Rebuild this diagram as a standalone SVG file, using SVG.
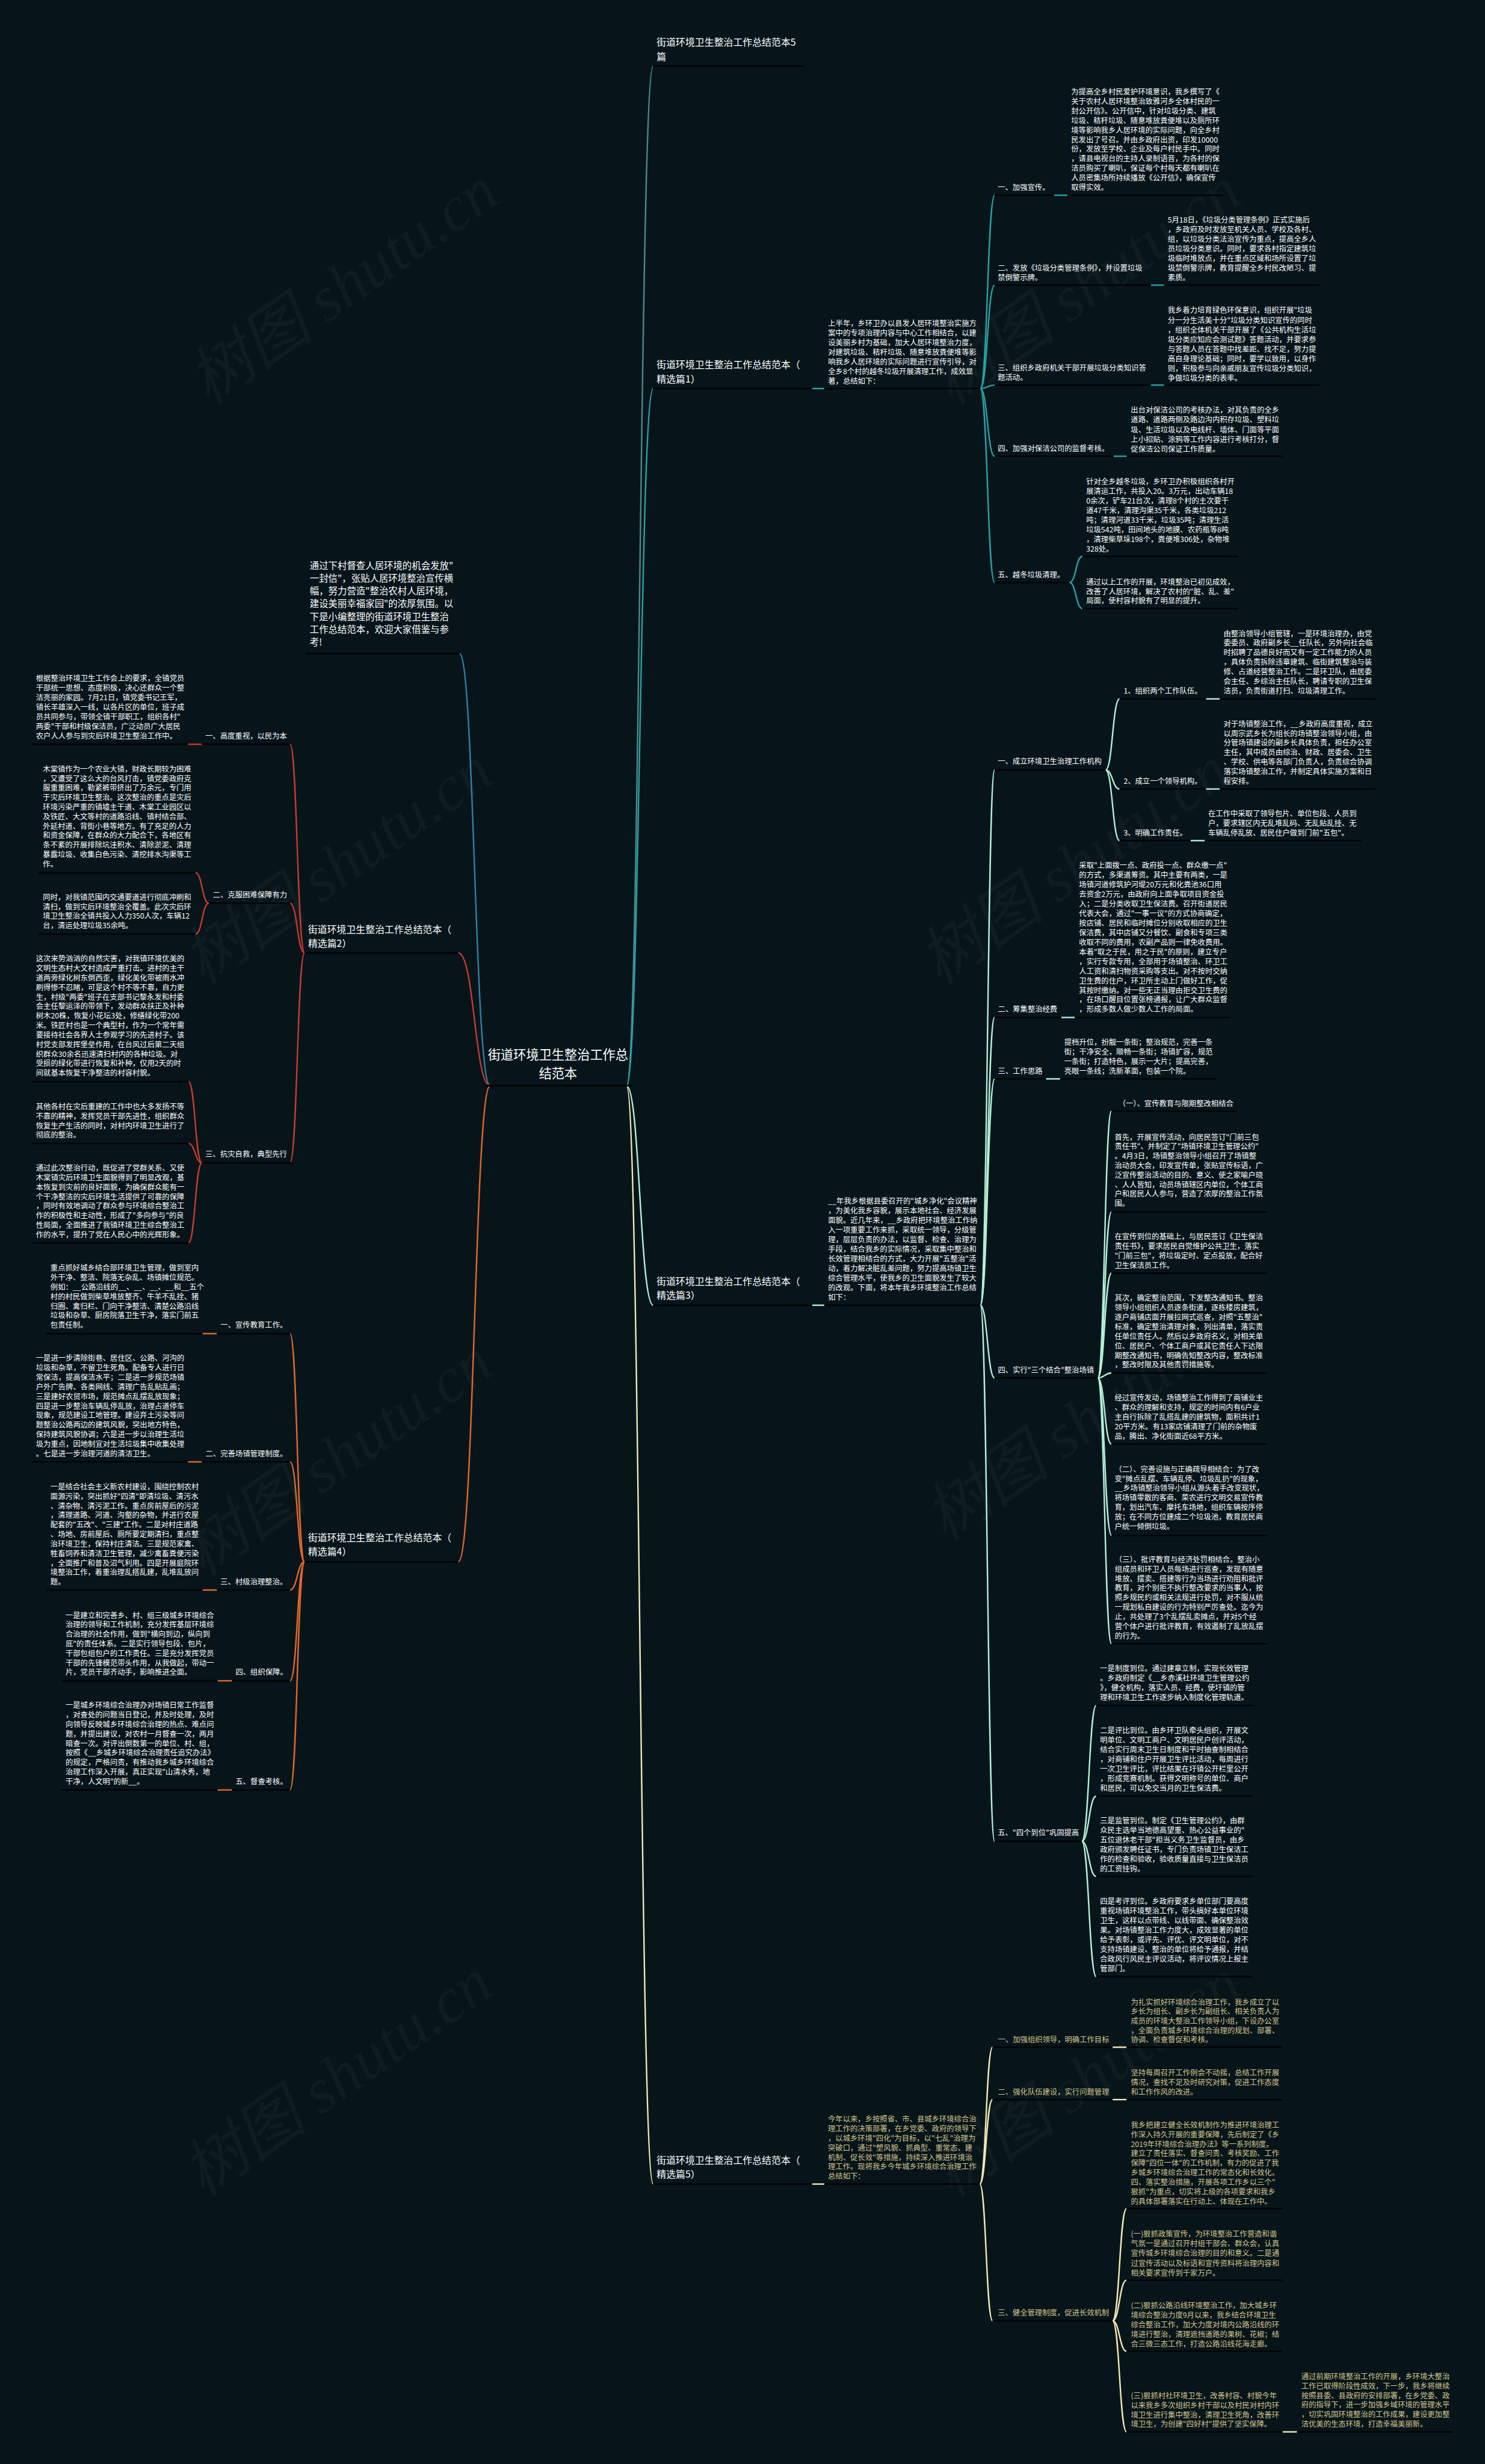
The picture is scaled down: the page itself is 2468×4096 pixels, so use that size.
<svg xmlns="http://www.w3.org/2000/svg" width="2468" height="4096" viewBox="0 0 2468 4096">
<style>
text{font-family:"Noto Sans CJK SC","Noto Sans",sans-serif;}
.t{font-size:12.8px;fill:#ffffff;}
.g{font-size:12.8px;fill:#d6c58b;}
.b{font-size:16.5px;fill:#ffffff;}
.i{font-size:16px;fill:#ffffff;}
.c{font-size:22px;fill:#ffffff;}
.w{font-family:"Liberation Serif","Noto Sans CJK SC",serif;font-style:italic;font-size:110px;fill:#ffffff;fill-opacity:0.035;}
.ul{stroke:#010406;stroke-width:3;fill:none;}
.cn{fill:none;stroke-width:2.5;}
.k5{stroke:#4a8a8c;}
.k1{stroke:#26a3a5;}
.ki{stroke:#2b82a8;}
.k2{stroke:#c8392e;}
.k4{stroke:#e4672b;}
.k3{stroke:#b2f0d7;}
.k6{stroke:#f3e7b3;}
</style>
<rect x="0" y="0" width="2468" height="4096" fill="#07151b"/>
<g transform="scale(0.9640625)">
<g id="watermarks">
<text class="w" transform="translate(360,700) rotate(-35)">树图 shutu.cn</text>
<text class="w" transform="translate(350,1700) rotate(-35)">树图 shutu.cn</text>
<text class="w" transform="translate(350,2720) rotate(-35)">树图 shutu.cn</text>
<text class="w" transform="translate(350,3790) rotate(-35)">树图 shutu.cn</text>
<text class="w" transform="translate(1640,700) rotate(-35)">树图 shutu.cn</text>
<text class="w" transform="translate(1620,1700) rotate(-35)">树图 shutu.cn</text>
<text class="w" transform="translate(1630,2660) rotate(-35)">树图 shutu.cn</text>
<text class="w" transform="translate(1640,3790) rotate(-35)">树图 shutu.cn</text>
</g>

<g id="connectors">
<path class="cn k5" d="M1080 1872C1103 1872 1103 114 1126 114"/>
<path class="cn k1" d="M1080 1872C1103 1872 1103 670 1126 670"/>
<path class="cn k3" d="M1080 1872C1103 1872 1103 2250.6 1126 2250.6"/>
<path class="cn k6" d="M1080 1872C1103 1872 1103 3766 1126 3766"/>
<path class="cn ki" d="M845 1872C818 1872 818 1127 792 1127"/>
<path class="cn k2" d="M845 1872C818 1872 818 1643 790 1643"/>
<path class="cn k4" d="M845 1872C818 1872 818 2693 790 2693"/>
<!-- 篇1 -->
<path class="cn k1" d="M1400 670H1421"/>
<path class="cn k1" d="M1690 670C1702.3 670 1702.3 336.7 1714.6 336.7"/>
<path class="cn k1" d="M1690 670C1702.3 670 1702.3 491.7 1714.6 491.7"/>
<path class="cn k1" d="M1690 670C1702.3 670 1702.3 664 1714.6 664"/>
<path class="cn k1" d="M1690 670C1702.3 670 1702.3 786.7 1714.6 786.7"/>
<path class="cn k1" d="M1690 670C1702.3 670 1702.3 1004.3 1714.6 1004.3"/>
<path class="cn k1" d="M1817 336.7H1840"/>
<path class="cn k1" d="M1983.8 491.7H2006.8"/>
<path class="cn k1" d="M1983.8 664H2006.8"/>
<path class="cn k1" d="M1919.5 786.7H1942.5"/>
<path class="cn k1" d="M1843.7 1004.3C1854.9 1004.3 1854.9 959.3 1866 959.3"/>
<path class="cn k1" d="M1843.7 1004.3C1854.9 1004.3 1854.9 1049.3 1866 1049.3"/>
<!-- 篇3 -->
<path class="cn k3" d="M1400 2250.6H1421"/>
<path class="cn k3" d="M1690 2250.6C1702.3 2250.6 1702.3 1327.7 1714.6 1327.7"/>
<path class="cn k3" d="M1690 2250.6C1702.3 2250.6 1702.3 1754.4 1714.6 1754.4"/>
<path class="cn k3" d="M1690 2250.6C1702.3 2250.6 1702.3 1860.3 1714.6 1860.3"/>
<path class="cn k3" d="M1690 2250.6C1702.3 2250.6 1702.3 2376 1714.6 2376"/>
<path class="cn k3" d="M1690 2250.6C1702.3 2250.6 1702.3 3175 1714.6 3175"/>
<path class="cn k3" d="M1906 1327.7C1918 1327.7 1918 1205.1 1930 1205.1"/>
<path class="cn k3" d="M1906 1327.7C1918 1327.7 1918 1360.5 1930 1360.5"/>
<path class="cn k3" d="M1906 1327.7C1918 1327.7 1918 1449.5 1930 1449.5"/>
<path class="cn k3" d="M2079 1205.1H2102.6"/>
<path class="cn k3" d="M2079 1360.5H2102.6"/>
<path class="cn k3" d="M2052.6 1449.5H2077"/>
<path class="cn k3" d="M1829.6 1754.4H1853"/>
<path class="cn k3" d="M1803 1860.3H1827.6"/>
<path class="cn k3" d="M1892.5 2376C1904.2 2376 1904.2 1916 1916 1916"/>
<path class="cn k3" d="M1892.5 2376C1904.2 2376 1904.2 2090 1916 2090"/>
<path class="cn k3" d="M1892.5 2376C1904.2 2376 1904.2 2195.4 1916 2195.4"/>
<path class="cn k3" d="M1892.5 2376C1904.2 2376 1904.2 2367.6 1916 2367.6"/>
<path class="cn k3" d="M1892.5 2376C1904.2 2376 1904.2 2490 1916 2490"/>
<path class="cn k3" d="M1892.5 2376C1904.2 2376 1904.2 2647.5 1916 2647.5"/>
<path class="cn k3" d="M1892.5 2376C1904.2 2376 1904.2 2834 1916 2834"/>
<path class="cn k3" d="M1865 3175C1877.3 3175 1877.3 2940.8 1889.7 2940.8"/>
<path class="cn k3" d="M1865 3175C1877.3 3175 1877.3 3097 1889.7 3097"/>
<path class="cn k3" d="M1865 3175C1877.3 3175 1877.3 3235.5 1889.7 3235.5"/>
<path class="cn k3" d="M1865 3175C1877.3 3175 1877.3 3408.3 1889.7 3408.3"/>
<!-- 篇5 -->
<path class="cn k6" d="M1400 3766H1421"/>
<path class="cn k6" d="M1689 3766C1700 3766 1700 3530 1711 3530"/>
<path class="cn k6" d="M1689 3766C1700 3766 1700 3620.3 1711 3620.3"/>
<path class="cn k6" d="M1689 3766C1700 3766 1700 4001.7 1711 4001.7"/>
<path class="cn k6" d="M1918 3530H1942"/>
<path class="cn k6" d="M1918 3620.3H1942"/>
<path class="cn k6" d="M1918 4001.7C1930 4001.7 1930 3808.3 1942 3808.3"/>
<path class="cn k6" d="M1918 4001.7C1930 4001.7 1930 3931.7 1942 3931.7"/>
<path class="cn k6" d="M1918 4001.7C1930 4001.7 1930 4054.3 1942 4054.3"/>
<path class="cn k6" d="M1918 4001.7C1930 4001.7 1930 4193.3 1942 4193.3"/>
<path class="cn k6" d="M2211 4193.3H2236"/>
<!-- 篇2 -->
<path class="cn k2" d="M525 1643C512.5 1643 512.5 1283.4 500 1283.4"/>
<path class="cn k2" d="M525 1643C512.5 1643 512.5 1557.4 500 1557.4"/>
<path class="cn k2" d="M525 1643C512.5 1643 512.5 2005 500 2005"/>
<path class="cn k2" d="M348 1283.4H324"/>
<path class="cn k2" d="M360 1557.4C348.5 1557.4 348.5 1504.8 337 1504.8"/>
<path class="cn k2" d="M360 1557.4C348.5 1557.4 348.5 1610.8 337 1610.8"/>
<path class="cn k2" d="M348 2005C336.5 2005 336.5 1865.2 325 1865.2"/>
<path class="cn k2" d="M348 2005C336.5 2005 336.5 1971.7 325 1971.7"/>
<path class="cn k2" d="M348 2005C336.5 2005 336.5 2143 325 2143"/>
<!-- 篇4 -->
<path class="cn k4" d="M525 2693C512.5 2693 512.5 2299.6 500 2299.6"/>
<path class="cn k4" d="M525 2693C512.5 2693 512.5 2520.7 500 2520.7"/>
<path class="cn k4" d="M525 2693C512.5 2693 512.5 2741.7 500 2741.7"/>
<path class="cn k4" d="M525 2693C512.5 2693 512.5 2898.2 500 2898.2"/>
<path class="cn k4" d="M525 2693C512.5 2693 512.5 3086.4 500 3086.4"/>
<path class="cn k4" d="M374 2299.6H349"/>
<path class="cn k4" d="M348 2520.7H324"/>
<path class="cn k4" d="M374 2741.7H349"/>
<path class="cn k4" d="M400 2898.2H375"/>
<path class="cn k4" d="M400 3086.4H375"/>
</g>

<g id="center">
<text class="c" text-anchor="middle" x="962" y="1826.4">街道环境卫生整治工作总</text>
<text class="c" text-anchor="middle" x="962" y="1858.4">结范本</text>
<path class="ul" d="M836 1872H1090"/>
</g>

<g id="b5top">
<text class="b" x="1132" y="79.3"><tspan x="1132">街道环境卫生整治工作总结范本5</tspan><tspan x="1132" dy="24">篇</tspan></text>
<path class="ul" d="M1126 114H1385"/>
</g>

<g id="intro">
<text class="i" x="534" y="981.1"><tspan x="534">通过下村督查人居环境的机会发放"</tspan><tspan x="534" dy="22">一封信"，张贴人居环境整治宣传横</tspan><tspan x="534" dy="22">幅，努力营造"整治农村人居环境，</tspan><tspan x="534" dy="22">建设美丽幸福家园"的浓厚氛围。以</tspan><tspan x="534" dy="22">下是小编整理的街道环境卫生整治</tspan><tspan x="534" dy="22">工作总结范本，欢迎大家借鉴与参</tspan><tspan x="534" dy="22">考!</tspan></text>
<path class="ul" d="M528 1127H792"/>
</g>

<!-- ===== 篇1 ===== -->
<g id="b1">
<text class="b" x="1132" y="635.3"><tspan x="1132">街道环境卫生整治工作总结范本（</tspan><tspan x="1132" dy="24">精选篇1）</tspan></text>
<path class="ul" d="M1126 670H1400"/>
</g>
<g id="b1-intro">
<text class="t" x="1427.6" y="562.3"><tspan x="1427.6">上半年，乡环卫办以县发人居环境整治实施方</tspan><tspan x="1427.6" dy="16.6">案中的专项治理内容与中心工作相结合，以建</tspan><tspan x="1427.6" dy="16.6">设美丽乡村为基础，加大人居环境整治力度，</tspan><tspan x="1427.6" dy="16.6">对建筑垃圾、秸秆垃圾、随意堆放粪便堆等影</tspan><tspan x="1427.6" dy="16.6">响我乡人居环境的实际问题进行宣传引导，对</tspan><tspan x="1427.6" dy="16.6">全乡8个村的越冬垃圾开展清理工作，成效显</tspan><tspan x="1427.6" dy="16.6">著，总结如下：</tspan></text>
<path class="ul" d="M1421 670H1690"/>
</g>
<g id="b1-1">
<text class="t" x="1720" y="327.9">一、加强宣传。</text>
<path class="ul" d="M1714.6 336.7H1817"/>
</g>
<g id="b1-1a">
<text class="t" x="1846.6" y="162.9"><tspan x="1846.6">为提高全乡村民爱护环境意识，我乡撰写了《</tspan><tspan x="1846.6" dy="16.5">关于农村人居环境整治致雅河乡全体村民的一</tspan><tspan x="1846.6" dy="16.5">封公开信》。公开信中，针对垃圾分类、建筑</tspan><tspan x="1846.6" dy="16.5">垃圾、秸秆垃圾、随意堆放粪便堆以及厕所环</tspan><tspan x="1846.6" dy="16.5">境等影响我乡人居环境的实际问题，向全乡村</tspan><tspan x="1846.6" dy="16.5">民发出了号召。并由乡政府出资，印发10000</tspan><tspan x="1846.6" dy="16.5">份，发放至学校、企业及每户村民手中。同时</tspan><tspan x="1846.6" dy="16.5">，请县电视台的主持人录制语音，为各村的保</tspan><tspan x="1846.6" dy="16.5">洁员购买了喇叭，保证每个村每天都有喇叭在</tspan><tspan x="1846.6" dy="16.5">人员密集场所持续播放《公开信》，确保宣传</tspan><tspan x="1846.6" dy="16.5">取得实效。</tspan></text>
<path class="ul" d="M1840 336.7H2109"/>
</g>
<g id="b1-2">
<text class="t" x="1720" y="466.9"><tspan x="1720">二、发放《垃圾分类管理条例》，并设置垃圾</tspan><tspan x="1720" dy="16.7">禁倒警示牌。</tspan></text>
<path class="ul" d="M1714.6 491.7H1983.8"/>
</g>
<g id="b1-2a">
<text class="t" x="2013" y="383.9"><tspan x="2013">5月18日，《垃圾分类管理条例》正式实施后</tspan><tspan x="2013" dy="16.6">，乡政府及时发放至机关人员、学校及各村、</tspan><tspan x="2013" dy="16.6">组，以垃圾分类法治宣传为重点，提高全乡人</tspan><tspan x="2013" dy="16.6">员垃圾分类意识。同时，要求各村指定建筑垃</tspan><tspan x="2013" dy="16.6">圾临时堆放点，并在重点区域和场所设置了垃</tspan><tspan x="2013" dy="16.6">圾禁倒警示牌，教育提醒全乡村民改陋习、提</tspan><tspan x="2013" dy="16.6">素质。</tspan></text>
<path class="ul" d="M2006.8 491.7H2275"/>
</g>
<g id="b1-3">
<text class="t" x="1720" y="638.9"><tspan x="1720">三、组织乡政府机关干部开展垃圾分类知识答</tspan><tspan x="1720" dy="16.7">题活动。</tspan></text>
<path class="ul" d="M1714.6 664H1983.8"/>
</g>
<g id="b1-3a">
<text class="t" x="2013" y="539.9"><tspan x="2013">我乡着力培育绿色环保意识，组织开展"垃圾</tspan><tspan x="2013" dy="16.6">分一分生活美十分"垃圾分类知识宣传的同时</tspan><tspan x="2013" dy="16.6">，组织全体机关干部开展了《公共机构生活垃</tspan><tspan x="2013" dy="16.6">圾分类应知应会测试题》答题活动，并要求参</tspan><tspan x="2013" dy="16.6">与答题人员在答题中找差距、找不足，努力提</tspan><tspan x="2013" dy="16.6">高自身理论基础；同时，要学以致用，以身作</tspan><tspan x="2013" dy="16.6">则，积极参与向亲戚朋友宣传垃圾分类知识，</tspan><tspan x="2013" dy="16.6">争做垃圾分类的表率。</tspan></text>
<path class="ul" d="M2006.8 664H2275"/>
</g>
<g id="b1-4">
<text class="t" x="1720" y="777.9">四、加强对保洁公司的监督考核。</text>
<path class="ul" d="M1714.6 786.7H1919.5"/>
</g>
<g id="b1-4a">
<text class="t" x="1949.4" y="711.9"><tspan x="1949.4">出台对保洁公司的考核办法，对其负责的全乡</tspan><tspan x="1949.4" dy="16.7">道路、道路两侧及路边沟内积存垃圾、塑料垃</tspan><tspan x="1949.4" dy="16.7">圾、生活垃圾以及电线杆、墙体、门面等平面</tspan><tspan x="1949.4" dy="16.7">上小招贴、涂鸦等工作内容进行考核打分，督</tspan><tspan x="1949.4" dy="16.7">促保洁公司保证工作质量。</tspan></text>
<path class="ul" d="M1942.5 786.7H2210.6"/>
</g>
<g id="b1-5">
<text class="t" x="1720" y="995.6">五、越冬垃圾清理。</text>
<path class="ul" d="M1714.6 1004.3H1843.7"/>
</g>
<g id="b1-5a">
<text class="t" x="1872.5" y="834.6"><tspan x="1872.5">针对全乡越冬垃圾，乡环卫办积极组织各村开</tspan><tspan x="1872.5" dy="16.6">展清运工作，共投入20。3万元，出动车辆18</tspan><tspan x="1872.5" dy="16.6">0余次，铲车21台次，清理8个村的主次要干</tspan><tspan x="1872.5" dy="16.6">道47千米，清理沟渠35千米，各类垃圾212</tspan><tspan x="1872.5" dy="16.6">吨；清理河道33千米，垃圾35吨；清理生活</tspan><tspan x="1872.5" dy="16.6">垃圾542吨，田间地头的地膜、农药瓶等8吨</tspan><tspan x="1872.5" dy="16.6">，清理柴草垛198个，粪便堆306处，杂物堆</tspan><tspan x="1872.5" dy="16.6">328处。</tspan></text>
<path class="ul" d="M1866 959.3H2135"/>
</g>
<g id="b1-5b">
<text class="t" x="1872.5" y="1007.9"><tspan x="1872.5">通过以上工作的开展，环境整治已初见成效，</tspan><tspan x="1872.5" dy="16.5">改善了人居环境，解决了农村的"脏、乱、差"</tspan><tspan x="1872.5" dy="16.5">局面，使村容村貌有了明显的提升。</tspan></text>
<path class="ul" d="M1866 1049.3H2135"/>
</g>

<!-- ===== 篇2 ===== -->
<g id="b2">
<text class="b" x="531" y="1608.3"><tspan x="531">街道环境卫生整治工作总结范本（</tspan><tspan x="531" dy="24">精选篇2）</tspan></text>
<path class="ul" d="M525 1643H790"/>
</g>
<g id="b2-1">
<text class="t" x="354" y="1273.6">一、高度重视，以民为本</text>
<path class="ul" d="M348 1283.4H500"/>
</g>
<g id="b2-1a">
<text class="t" x="62" y="1174.4"><tspan x="62">根据整治环境卫生工作会上的要求，全镇党员</tspan><tspan x="62" dy="16.55">干部统一思想、态度积极，决心还群众一个整</tspan><tspan x="62" dy="16.55">洁亮丽的家园。7月21日，镇党委书记王军，</tspan><tspan x="62" dy="16.55">镇长羊雄深入一线，以各片区的单位，班子成</tspan><tspan x="62" dy="16.55">员共同参与，带领全镇干部职工，组织各村"</tspan><tspan x="62" dy="16.55">两委"干部和村级保洁员，广泛动员广大居民</tspan><tspan x="62" dy="16.55">农户人人参与到灾后环境卫生整治工作中。</tspan></text>
<path class="ul" d="M54 1283.4H324"/>
</g>
<g id="b2-2">
<text class="t" x="367" y="1548.1">二、克服困难保障有力</text>
<path class="ul" d="M360 1557.4H500"/>
</g>
<g id="b2-2a">
<text class="t" x="74" y="1330.6"><tspan x="74">木棠镇作为一个农业大镇，财政长期较为困难</tspan><tspan x="74" dy="16.4">，又遭受了这么大的台风打击，镇党委政府克</tspan><tspan x="74" dy="16.4">服重重困难，勒紧裤带挤出了万余元，专门用</tspan><tspan x="74" dy="16.4">于灾后环境卫生整治。这次整治的重点是灾后</tspan><tspan x="74" dy="16.4">环境污染严重的镇墟主干道、木棠工业园区以</tspan><tspan x="74" dy="16.4">及铁匠、大文等村的道路沿线、镇村结合部、</tspan><tspan x="74" dy="16.4">外延村道、背街小巷等地方。有了充足的人力</tspan><tspan x="74" dy="16.4">和资金保障，在群众的大力配合下，各地区有</tspan><tspan x="74" dy="16.4">条不紊的开展排除坑洼积水、清除淤泥、清理</tspan><tspan x="74" dy="16.4">暴露垃圾、收集白色污染、清挖排水沟渠等工</tspan><tspan x="74" dy="16.4">作。</tspan></text>
<path class="ul" d="M66 1504.8H337"/>
</g>
<g id="b2-2b">
<text class="t" x="74" y="1551.5"><tspan x="74">同时，对我镇范围内交通要道进行彻底冲刷和</tspan><tspan x="74" dy="16.4">清扫，做到灾后环境整治全覆盖。此次灾后环</tspan><tspan x="74" dy="16.4">境卫生整治全镇共投入人力350人次，车辆12</tspan><tspan x="74" dy="16.4">台，清运处理垃圾35余吨。</tspan></text>
<path class="ul" d="M66 1610.8H337"/>
</g>
<g id="b2-3">
<text class="t" x="354" y="1994.6">三、抗灾自救，典型先行</text>
<path class="ul" d="M348 2005H502"/>
</g>
<g id="b2-3a">
<text class="t" x="62" y="1658"><tspan x="62">这次来势汹汹的自然灾害，对我镇环境优美的</tspan><tspan x="62" dy="16.4">文明生态村大文村造成严重打击。进村的主干</tspan><tspan x="62" dy="16.4">道两旁绿化树东倒西歪，绿化美化带被雨水冲</tspan><tspan x="62" dy="16.4">刷得惨不忍睹，可是这个村不等不靠，自力更</tspan><tspan x="62" dy="16.4">生，村级"两委"班子在支部书记黎永发和村委</tspan><tspan x="62" dy="16.4">会主任黎运泽的带领下，发动群众扶正及补种</tspan><tspan x="62" dy="16.4">树木20株，恢复小花坛3处，修缮绿化带200</tspan><tspan x="62" dy="16.4">米。铁匠村也是一个典型村，作为一个常年需</tspan><tspan x="62" dy="16.4">要接待社会各界人士参观学习的先进村子。该</tspan><tspan x="62" dy="16.4">村党支部发挥堡垒作用，在台风过后第二天组</tspan><tspan x="62" dy="16.4">织群众30余名迅速清扫村内的各种垃圾。对</tspan><tspan x="62" dy="16.4">受损的绿化带进行恢复和补种，仅用2天的时</tspan><tspan x="62" dy="16.4">间就基本恢复干净整洁的村容村貌。</tspan></text>
<path class="ul" d="M54 1865.2H325"/>
</g>
<g id="b2-3b">
<text class="t" x="62" y="1912.8"><tspan x="62">其他各村在灾后重建的工作中也大多发扬不等</tspan><tspan x="62" dy="16.4">不靠的精神，发挥党员干部先进性，组织群众</tspan><tspan x="62" dy="16.4">恢复生产生活的同时，对村内环境卫生进行了</tspan><tspan x="62" dy="16.4">彻底的整治。</tspan></text>
<path class="ul" d="M54 1971.7H325"/>
</g>
<g id="b2-3c">
<text class="t" x="62" y="2018.8"><tspan x="62">通过此次整治行动，既促进了党群关系、又使</tspan><tspan x="62" dy="16.4">木棠镇灾后环境卫生面貌得到了明显改观，基</tspan><tspan x="62" dy="16.4">本恢复到灾前的良好面貌，为确保群众能有一</tspan><tspan x="62" dy="16.4">个干净整洁的灾后环境生活提供了可靠的保障</tspan><tspan x="62" dy="16.4">，同时有效地调动了群众参与环境综合整治工</tspan><tspan x="62" dy="16.4">作的积极性和主动性，形成了"多向参与"的良</tspan><tspan x="62" dy="16.4">性局面，全面推进了我镇环境卫生综合整治工</tspan><tspan x="62" dy="16.4">作的水平，提升了党在人民心中的光辉形象。</tspan></text>
<path class="ul" d="M54 2143H325"/>
</g>

<!-- ===== 篇4 ===== -->
<g id="b4">
<text class="b" x="531" y="2657.3"><tspan x="531">街道环境卫生整治工作总结范本（</tspan><tspan x="531" dy="24">精选篇4）</tspan></text>
<path class="ul" d="M525 2693H790"/>
</g>
<g id="b4-1">
<text class="t" x="380" y="2289.4">一、宣传教育工作。</text>
<path class="ul" d="M374 2299.6H500"/>
</g>
<g id="b4-1a">
<text class="t" x="87" y="2191"><tspan x="87">重点抓好城乡结合部环境卫生管理，做到室内</tspan><tspan x="87" dy="16.4">外干净、整洁、院落无杂乱、场镇摊位规范。</tspan><tspan x="87" dy="16.4">例如：__公路沿线的__、__、__、__和__五个</tspan><tspan x="87" dy="16.4">村的村民做到柴草堆放整齐、牛羊不乱拴、猪</tspan><tspan x="87" dy="16.4">归圈、禽归栏、门向干净整洁、清楚公路沿线</tspan><tspan x="87" dy="16.4">垃圾和杂草、厨房院落卫生干净，落实门前五</tspan><tspan x="87" dy="16.4">包责任制。</tspan></text>
<path class="ul" d="M80 2299.6H349"/>
</g>
<g id="b4-2">
<text class="t" x="354.5" y="2511.4">二、完善场镇管理制度。</text>
<path class="ul" d="M348 2520.7H500"/>
</g>
<g id="b4-2a">
<text class="t" x="62" y="2346.3"><tspan x="62">一是进一步清除街巷、居住区、公路、河沟的</tspan><tspan x="62" dy="16.5">垃圾和杂草，不留卫生死角。配备专人进行日</tspan><tspan x="62" dy="16.5">常保洁，提高保洁水平；二是进一步规范场镇</tspan><tspan x="62" dy="16.5">户外广告牌、各类网线、清理广告乱贴乱画；</tspan><tspan x="62" dy="16.5">三是建好农贸市场，规范摊点乱摆乱放现象；</tspan><tspan x="62" dy="16.5">四是进一步整治车辆乱停乱放，治理占道停车</tspan><tspan x="62" dy="16.5">现象，规范建设工地管理。建设弃土污染等问</tspan><tspan x="62" dy="16.5">题整治公路两边的建筑风貌，突出地方特色，</tspan><tspan x="62" dy="16.5">保持建筑风貌协调；六是进一步以治理生活垃</tspan><tspan x="62" dy="16.5">圾为重点，因地制宜对生活垃圾集中收集处理</tspan><tspan x="62" dy="16.5">。七是进一步治理河道的清洁卫生。</tspan></text>
<path class="ul" d="M54 2520.7H324"/>
</g>
<g id="b4-3">
<text class="t" x="380" y="2732.4">三、村级治理整治。</text>
<path class="ul" d="M374 2741.7H500"/>
</g>
<g id="b4-3a">
<text class="t" x="87" y="2568.2"><tspan x="87">一是结合社会主义新农村建设，围绕控制农村</tspan><tspan x="87" dy="16.42">面源污染，突出抓好"四清"即清垃圾、清污水</tspan><tspan x="87" dy="16.42">、清杂物、清污泥工作。重点房前屋后的污泥</tspan><tspan x="87" dy="16.42">，清理道路、河道、沟壑的杂物，并进行农屋</tspan><tspan x="87" dy="16.42">配套的"五改"、"三建"工作。二是对村庄道路</tspan><tspan x="87" dy="16.42">、场地、房前屋后、厕所要定期清扫，重点整</tspan><tspan x="87" dy="16.42">治环境卫生，保持村庄清洁。三是规范家禽、</tspan><tspan x="87" dy="16.42">牲畜饲养和清洁卫生管理，减少禽畜粪便污染</tspan><tspan x="87" dy="16.42">，全面推广和普及沼气利用。四是开展庭院环</tspan><tspan x="87" dy="16.42">境整治工作，着重治理乱搭乱建，乱堆乱放问</tspan><tspan x="87" dy="16.42">题。</tspan></text>
<path class="ul" d="M80 2741.7H349"/>
</g>
<g id="b4-4">
<text class="t" x="406" y="2888.1">四、组织保障。</text>
<path class="ul" d="M400 2898.2H500"/>
</g>
<g id="b4-4a">
<text class="t" x="113" y="2790"><tspan x="113">一是建立和完善乡、村、组三级城乡环境综合</tspan><tspan x="113" dy="16.35">治理的领导和工作机制，充分发挥基层环境综</tspan><tspan x="113" dy="16.35">合治理的社会作用，做到"横向到边，纵向到</tspan><tspan x="113" dy="16.35">底"的责任体系。二是实行领导包段、包片，</tspan><tspan x="113" dy="16.35">干部包组包户的工作责任。三是充分发挥党员</tspan><tspan x="113" dy="16.35">干部的先锋模范带头作用，从我做起，带动一</tspan><tspan x="113" dy="16.35">片，党员干部齐动手，影响推进全面。</tspan></text>
<path class="ul" d="M106 2898.2H375"/>
</g>
<g id="b4-5">
<text class="t" x="406" y="3076.6">五、督查考核。</text>
<path class="ul" d="M400 3086.4H500"/>
</g>
<g id="b4-5a">
<text class="t" x="113" y="2944.9"><tspan x="113">一是城乡环境综合治理办对场镇日常工作监督</tspan><tspan x="113" dy="16.46">，对查处的问题当日登记，并及时处理，及时</tspan><tspan x="113" dy="16.46">向领导反映城乡环境综合治理的热点、难点问</tspan><tspan x="113" dy="16.46">题，并提出建议，对农村一月督查一次，两月</tspan><tspan x="113" dy="16.46">暗查一次。对评出倒数第一的单位、村、组，</tspan><tspan x="113" dy="16.46">按照《__乡城乡环境综合治理责任追究办法》</tspan><tspan x="113" dy="16.46">的规定，严格问责，有推动我乡城乡环境综合</tspan><tspan x="113" dy="16.46">治理工作深入开展，真正实现"山清水秀，地</tspan><tspan x="113" dy="16.46">干净，人文明"的新__。</tspan></text>
<path class="ul" d="M106 3086.4H375"/>
</g>

<!-- ===== 篇3 ===== -->
<g id="b3">
<text class="b" x="1132" y="2215.9"><tspan x="1132">街道环境卫生整治工作总结范本（</tspan><tspan x="1132" dy="24">精选篇3）</tspan></text>
<path class="ul" d="M1126 2250.6H1400"/>
</g>
<g id="b3-intro">
<text class="t" x="1427.6" y="2076.1"><tspan x="1427.6">__年我乡根据县委召开的"城乡净化"会议精神</tspan><tspan x="1427.6" dy="16.52">，为美化我乡容貌，展示本地社会、经济发展</tspan><tspan x="1427.6" dy="16.52">面貌。近几年来，__乡政府把环境整治工作纳</tspan><tspan x="1427.6" dy="16.52">入一项重要工作来抓，采取统一领导，分级管</tspan><tspan x="1427.6" dy="16.52">理，层层负责的办法，以监督、检查、治理为</tspan><tspan x="1427.6" dy="16.52">手段，结合我乡的实际情况，采取集中整治和</tspan><tspan x="1427.6" dy="16.52">长效管理相结合的方式，大力开展"五整治"活</tspan><tspan x="1427.6" dy="16.52">动，着力解决脏乱差问题，努力提高场镇卫生</tspan><tspan x="1427.6" dy="16.52">综合管理水平，使我乡的卫生面貌发生了较大</tspan><tspan x="1427.6" dy="16.52">的改观。下面，将本年我乡环境整治工作总结</tspan><tspan x="1427.6" dy="16.52">如下：</tspan></text>
<path class="ul" d="M1421 2250.6H1690"/>
</g>
<g id="b3-1">
<text class="t" x="1720" y="1317.6">一、成立环境卫生治理工作机构</text>
<path class="ul" d="M1714.6 1327.7H1906"/>
</g>
<g id="b3-1-1">
<text class="t" x="1937" y="1195.9">1、组织两个工作队伍。</text>
<path class="ul" d="M1930 1205.1H2079"/>
</g>
<g id="b3-1-1a">
<text class="t" x="2109.2" y="1097"><tspan x="2109.2">由整治领导小组管辖，一是环境治理办，由党</tspan><tspan x="2109.2" dy="16.5">委委员、政府副乡长__任队长，另外向社会临</tspan><tspan x="2109.2" dy="16.5">时招聘了品德良好而又有一定工作能力的人员</tspan><tspan x="2109.2" dy="16.5">，具体负责拆除违章建筑、临街建筑整治与装</tspan><tspan x="2109.2" dy="16.5">修、占道经营整治工作。二是环卫队，由居委</tspan><tspan x="2109.2" dy="16.5">会主任、乡综治主任队长，聘请专职的卫生保</tspan><tspan x="2109.2" dy="16.5">洁员，负责街道打扫、垃圾清理工作。</tspan></text>
<path class="ul" d="M2102.6 1205.1H2371"/>
</g>
<g id="b3-1-2">
<text class="t" x="1937" y="1351.3">2、成立一个领导机构。</text>
<path class="ul" d="M1930 1360.5H2079"/>
</g>
<g id="b3-1-2a">
<text class="t" x="2109.2" y="1252.8"><tspan x="2109.2">对于场镇整治工作，__乡政府高度重视，成立</tspan><tspan x="2109.2" dy="16.42">以周宗武乡长为组长的场镇整治领导小组，由</tspan><tspan x="2109.2" dy="16.42">分管场镇建设的副乡长具体负责，担任办公室</tspan><tspan x="2109.2" dy="16.42">主任，其中成员由综治、财政、居委会、卫生</tspan><tspan x="2109.2" dy="16.42">、学校、供电等各部门负责人，负责综合协调</tspan><tspan x="2109.2" dy="16.42">落实场镇整治工作，并制定具体实施方案和日</tspan><tspan x="2109.2" dy="16.42">程安排。</tspan></text>
<path class="ul" d="M2102.6 1360.5H2371"/>
</g>
<g id="b3-1-3">
<text class="t" x="1937" y="1441">3、明确工作责任。</text>
<path class="ul" d="M1930 1449.5H2052.6"/>
</g>
<g id="b3-1-3a">
<text class="t" x="2082.8" y="1407.8"><tspan x="2082.8">在工作中采取了领导包片、单位包段、人员到</tspan><tspan x="2082.8" dy="16.6">户，要求辖区内无乱堆乱码、无乱贴乱挂、无</tspan><tspan x="2082.8" dy="16.6">车辆乱停乱放、居民住户做到门前"五包"。</tspan></text>
<path class="ul" d="M2077 1449.5H2346.6"/>
</g>
<g id="b3-2">
<text class="t" x="1720.4" y="1745.1">二、筹集整治经费</text>
<path class="ul" d="M1714.6 1754.4H1829.6"/>
</g>
<g id="b3-2a">
<text class="t" x="1860.2" y="1497.2"><tspan x="1860.2">采取"上面拨一点、政府投一点、群众缴一点"</tspan><tspan x="1860.2" dy="16.53">的方式，多渠道筹资。其中主要有两类，一是</tspan><tspan x="1860.2" dy="16.53">场镇河道修筑护河堤20万元和化粪池36口用</tspan><tspan x="1860.2" dy="16.53">去资金2万元，由政府向上面争取项目资金投</tspan><tspan x="1860.2" dy="16.53">入；二是分类收取卫生保洁费。召开街道居民</tspan><tspan x="1860.2" dy="16.53">代表大会，通过"一事一议"的方式协商确定，</tspan><tspan x="1860.2" dy="16.53">按店铺、居民和临时摊位分别收取相应的卫生</tspan><tspan x="1860.2" dy="16.53">保洁费，其中店铺又分餐饮、副食和专项三类</tspan><tspan x="1860.2" dy="16.53">收取不同的费用，农副产品则一律免收费用。</tspan><tspan x="1860.2" dy="16.53">本着"取之于民，用之于民"的原则，建立专户</tspan><tspan x="1860.2" dy="16.53">，实行专款专用，全部用于场镇整治、环卫工</tspan><tspan x="1860.2" dy="16.53">人工资和清扫物资采购等支出。对不按时交纳</tspan><tspan x="1860.2" dy="16.53">卫生费的住户，环卫所主动上门做好工作，促</tspan><tspan x="1860.2" dy="16.53">其按时缴纳。对一些无正当理由拒交卫生费的</tspan><tspan x="1860.2" dy="16.53">，在场口醒目位置张榜通报，让广大群众监督</tspan><tspan x="1860.2" dy="16.53">，形成多数人做少数人工作的局面。</tspan></text>
<path class="ul" d="M1853 1754.4H2122"/>
</g>
<g id="b3-3">
<text class="t" x="1720.4" y="1851.1">三、工作思路</text>
<path class="ul" d="M1714.6 1860.3H1803"/>
</g>
<g id="b3-3a">
<text class="t" x="1834.7" y="1801.6"><tspan x="1834.7">提档升位，扮靓一条街；整治规范，完善一条</tspan><tspan x="1834.7" dy="16.5">街；干净安全，顺畅一条街；场镇扩容，规范</tspan><tspan x="1834.7" dy="16.5">一条街；打造特色，展示一大片；提高完善，</tspan><tspan x="1834.7" dy="16.5">亮眼一条线；洗新革面，包装一个院。</tspan></text>
<path class="ul" d="M1827.6 1860.3H2095"/>
</g>
<g id="b3-4">
<text class="t" x="1720.3" y="2367.2">四、实行"三个结合"整治场镇</text>
<path class="ul" d="M1714.6 2376H1892.5"/>
</g>
<g id="b3-4-1">
<text class="t" x="1928" y="1907.6">（一）、宣传教育与限期整改相结合</text>
<path class="ul" d="M1916 1916H2132"/>
</g>
<g id="b3-4-2">
<text class="t" x="1921.5" y="1965.2"><tspan x="1921.5">首先，开展宣传活动，向居民签订"门前三包</tspan><tspan x="1921.5" dy="16.41">责任书"、并制定了"场镇环境卫生管理公约"</tspan><tspan x="1921.5" dy="16.41">。4月3日，场镇整治领导小组召开了场镇整</tspan><tspan x="1921.5" dy="16.41">治动员大会，印发宣传单，张贴宣传标语，广</tspan><tspan x="1921.5" dy="16.41">泛宣传整治活动的目的、意义、使之家喻户晓</tspan><tspan x="1921.5" dy="16.41">、人人皆知，动员场镇辖区内单位，个体工商</tspan><tspan x="1921.5" dy="16.41">户和居民人人参与，营造了浓厚的整治工作氛</tspan><tspan x="1921.5" dy="16.41">围。</tspan></text>
<path class="ul" d="M1916 2090H2184"/>
</g>
<g id="b3-4-3">
<text class="t" x="1921.5" y="2137.3"><tspan x="1921.5">在宣传到位的基础上，与居民签订《卫生保洁</tspan><tspan x="1921.5" dy="16.43">责任书》，要求居民自觉维护公共卫生，落实</tspan><tspan x="1921.5" dy="16.43">"门前三包"，将垃圾定时、定点投放，配合好</tspan><tspan x="1921.5" dy="16.43">卫生保洁员工作。</tspan></text>
<path class="ul" d="M1916 2195.4H2184"/>
</g>
<g id="b3-4-4">
<text class="t" x="1921.5" y="2242.8"><tspan x="1921.5">其次，确定整治范围，下发整改通知书。整治</tspan><tspan x="1921.5" dy="16.49">领导小组组织人员逐条街道，逐栋楼房建筑，</tspan><tspan x="1921.5" dy="16.49">逐户商铺店面开展拉网式巡查，对照"五整治"</tspan><tspan x="1921.5" dy="16.49">标准，确定整治清理对象，列出清单，落实责</tspan><tspan x="1921.5" dy="16.49">任单位责任人。然后以乡政府名义，对相关单</tspan><tspan x="1921.5" dy="16.49">位、居民户、个体工商户或其它责任人下达限</tspan><tspan x="1921.5" dy="16.49">期整改通知书，明确告知整改内容，整改标准</tspan><tspan x="1921.5" dy="16.49">，整改时限及其他责罚措施等。</tspan></text>
<path class="ul" d="M1916 2367.6H2184"/>
</g>
<g id="b3-4-5">
<text class="t" x="1921.5" y="2414.9"><tspan x="1921.5">经过宣传发动，场镇整治工作得到了商铺业主</tspan><tspan x="1921.5" dy="16.57">、群众的理解和支持，规定的时间内有6户业</tspan><tspan x="1921.5" dy="16.57">主自行拆除了乱搭乱建的建筑物，面积共计1</tspan><tspan x="1921.5" dy="16.57">20平方米。有13家店铺清理了门前的杂物废</tspan><tspan x="1921.5" dy="16.57">品，腾出、净化街面近68平方米。</tspan></text>
<path class="ul" d="M1916 2490H2184"/>
</g>
<g id="b3-4-6">
<text class="t" x="1921.5" y="2537.8"><tspan x="1921.5">（二）、完善设施与正确疏导相结合：为了改</tspan><tspan x="1921.5" dy="16.5">变"摊点乱摆、车辆乱停、垃圾乱扔"的现象，</tspan><tspan x="1921.5" dy="16.5">__乡场镇整治领导小组从源头着手改变现状，</tspan><tspan x="1921.5" dy="16.5">将场镇零散的客商、菜农进行文明交易宣传教</tspan><tspan x="1921.5" dy="16.5">育，划出汽车、摩托车场地，组织车辆按序停</tspan><tspan x="1921.5" dy="16.5">放；在不同方位建成二个垃圾池，教育居民商</tspan><tspan x="1921.5" dy="16.5">户统一倾倒垃圾。</tspan></text>
<path class="ul" d="M1916 2647.5H2184"/>
</g>
<g id="b3-4-7">
<text class="t" x="1921.9" y="2693.5"><tspan x="1921.9">（三）、批评教育与经济处罚相结合。整治小</tspan><tspan x="1921.9" dy="16.5">组成员和环卫人员每场进行巡查，发现有随意</tspan><tspan x="1921.9" dy="16.5">堆放、摆卖、搭建等行为当场进行劝阻和批评</tspan><tspan x="1921.9" dy="16.5">教育，对个别拒不执行整改要求的当事人，按</tspan><tspan x="1921.9" dy="16.5">照乡规民约或相关法规进行处罚，对不服从统</tspan><tspan x="1921.9" dy="16.5">一规划私自建设的行为特别严厉查处。迄今为</tspan><tspan x="1921.9" dy="16.5">止，共处理了3个乱摆乱卖摊点，并对5个经</tspan><tspan x="1921.9" dy="16.5">营个体户进行批评教育，有效遏制了乱放乱摆</tspan><tspan x="1921.9" dy="16.5">的行为。</tspan></text>
<path class="ul" d="M1916 2834H2184.4"/>
</g>
<g id="b3-5">
<text class="t" x="1720" y="3165">五、"四个到位"巩固提高</text>
<path class="ul" d="M1714.6 3175H1865"/>
</g>
<g id="b3-5-1">
<text class="t" x="1896.4" y="2881.9"><tspan x="1896.4">一是制度到位。通过建章立制，实现长效管理</tspan><tspan x="1896.4" dy="16.63">。乡政府制定《__乡赤溪社环境卫生管理公约</tspan><tspan x="1896.4" dy="16.63">》，健全机构，落实人员、经费，使圩镇的管</tspan><tspan x="1896.4" dy="16.63">理和环境卫生工作逐步纳入制度化管理轨道。</tspan></text>
<path class="ul" d="M1889.7 2940.8H2158.5"/>
</g>
<g id="b3-5-2">
<text class="t" x="1896.4" y="2988.6"><tspan x="1896.4">二是评比到位。由乡环卫队牵头组织，开展文</tspan><tspan x="1896.4" dy="16.55">明单位、文明工商户、文明居民户创评活动，</tspan><tspan x="1896.4" dy="16.55">结合实行周末卫生日制度和平时抽查制相结合</tspan><tspan x="1896.4" dy="16.55">，对商铺和住户开展卫生评比活动，每周进行</tspan><tspan x="1896.4" dy="16.55">一次卫生评比，评比结果在圩镇公开栏里公开</tspan><tspan x="1896.4" dy="16.55">，形成竞赛机制。获得文明称号的单位、商户</tspan><tspan x="1896.4" dy="16.55">和居民，可以免交当月的卫生保洁费。</tspan></text>
<path class="ul" d="M1889.7 3097H2158.5"/>
</g>
<g id="b3-5-3">
<text class="t" x="1896.4" y="3143.8"><tspan x="1896.4">三是监管到位。制定《卫生管理公约》，由群</tspan><tspan x="1896.4" dy="16.64">众民主选举当地德高望重、热心公益事业的"</tspan><tspan x="1896.4" dy="16.64">五位退休老干部"担当义务卫生监督员，由乡</tspan><tspan x="1896.4" dy="16.64">政府颁发聘任证书，专门负责场镇卫生保洁工</tspan><tspan x="1896.4" dy="16.64">作的检查和验收，验收质量直接与卫生保洁员</tspan><tspan x="1896.4" dy="16.64">的工资挂钩。</tspan></text>
<path class="ul" d="M1889.7 3235.5H2158.5"/>
</g>
<g id="b3-5-4">
<text class="t" x="1896.4" y="3283.4"><tspan x="1896.4">四是考评到位。乡政府要求乡单位部门要高度</tspan><tspan x="1896.4" dy="16.47">重视场镇环境整治工作，带头搞好本单位环境</tspan><tspan x="1896.4" dy="16.47">卫生，这样以点带线、以线带面、确保整治效</tspan><tspan x="1896.4" dy="16.47">果。对场镇整治工作力度大，成效显著的单位</tspan><tspan x="1896.4" dy="16.47">给予表彰，或评先、评优、评文明单位，对不</tspan><tspan x="1896.4" dy="16.47">支持场镇建设、整治的单位将给予通报，并结</tspan><tspan x="1896.4" dy="16.47">合政风行风民主评议活动，将评议情况上报主</tspan><tspan x="1896.4" dy="16.47">管部门。</tspan></text>
<path class="ul" d="M1889.7 3408.3H2158.5"/>
</g>

<!-- ===== 篇5 ===== -->
<g id="b5">
<text class="b" x="1132" y="3731.3"><tspan x="1132">街道环境卫生整治工作总结范本（</tspan><tspan x="1132" dy="24">精选篇5）</tspan></text>
<path class="ul" d="M1126 3766H1400"/>
</g>
<g id="b5-intro">
<text class="g" x="1427.3" y="3658.9"><tspan x="1427.3">今年以来，乡按照省、市、县城乡环境综合治</tspan><tspan x="1427.3" dy="16.4">理工作的决策部署，在乡党委、政府的领导下</tspan><tspan x="1427.3" dy="16.4">，以城乡环境"四化"为目标，以"七乱"治理为</tspan><tspan x="1427.3" dy="16.4">突破口，通过"塑风貌、抓典型、重常态、建</tspan><tspan x="1427.3" dy="16.4">机制、促长效"等措施，持续深入推进环境治</tspan><tspan x="1427.3" dy="16.4">理工作。现将我乡今年城乡环境综合治理工作</tspan><tspan x="1427.3" dy="16.4">总结如下：</tspan></text>
<path class="ul" d="M1421 3766H1689"/>
</g>
<g id="b5-1">
<text class="g" x="1720.4" y="3521.9">一、加强组织领导，明确工作目标</text>
<path class="ul" d="M1711 3530H1918"/>
</g>
<g id="b5-1a">
<text class="g" x="1949.5" y="3456.9"><tspan x="1949.5">为扎实抓好环境综合治理工作，我乡成立了以</tspan><tspan x="1949.5" dy="16.25">乡长为组长、副乡长为副组长、相关负责人为</tspan><tspan x="1949.5" dy="16.25">成员的环境大整治工作领导小组，下设办公室</tspan><tspan x="1949.5" dy="16.25">，全面负责城乡环境综合治理的规划、部署、</tspan><tspan x="1949.5" dy="16.25">协调、检查督促和考核。</tspan></text>
<path class="ul" d="M1942 3530H2211"/>
</g>
<g id="b5-2">
<text class="g" x="1720.4" y="3611.9">二、强化队伍建设，实行问题管理</text>
<path class="ul" d="M1711 3620.3H1918"/>
</g>
<g id="b5-2a">
<text class="g" x="1949.5" y="3578.6"><tspan x="1949.5">坚持每周召开工作例会不动摇，总结工作开展</tspan><tspan x="1949.5" dy="16.65">情况，查找不足及时研究对策，促进工作态度</tspan><tspan x="1949.5" dy="16.65">和工作作风的改进。</tspan></text>
<path class="ul" d="M1942 3620.3H2211"/>
</g>
<g id="b5-3">
<text class="g" x="1720" y="3992.9">三、健全管理制度，促进长效机制</text>
<path class="ul" d="M1711 4001.7H1918"/>
</g>
<g id="b5-3a">
<text class="g" x="1949.5" y="3668.6"><tspan x="1949.5">我乡把建立健全长效机制作为推进环境治理工</tspan><tspan x="1949.5" dy="16.5">作深入持久开展的重要保障，先后制定了《乡</tspan><tspan x="1949.5" dy="16.5">2019年环境综合治理办法》等一系列制度。</tspan><tspan x="1949.5" dy="16.5">建立了责任落实、督查问责、考核奖励、工作</tspan><tspan x="1949.5" dy="16.5">保障"四位一体"的工作机制，有力的促进了我</tspan><tspan x="1949.5" dy="16.5">乡城乡环境综合治理工作的常态化和长效化。</tspan><tspan x="1949.5" dy="16.5">四、落实整治措施，开展各项工作乡以三个"</tspan><tspan x="1949.5" dy="16.5">狠抓"为重点，切实将上级的各项要求和我乡</tspan><tspan x="1949.5" dy="16.5">的具体部署落实在行动上、体现在工作中。</tspan></text>
<path class="ul" d="M1942 3808.3H2211"/>
</g>
<g id="b5-3b">
<text class="g" x="1949.5" y="3856.9"><tspan x="1949.5">(一)狠抓政策宣传，为环境整治工作营造和谐</tspan><tspan x="1949.5" dy="16.7">气氛一是通过召开村组干部会、群众会，认真</tspan><tspan x="1949.5" dy="16.7">宣传城乡环境综合治理的目的和意义。二是通</tspan><tspan x="1949.5" dy="16.7">过宣传活动以及标语和宣传资料将治理内容和</tspan><tspan x="1949.5" dy="16.7">相关要求宣传到千家万户。</tspan></text>
<path class="ul" d="M1942 3931.7H2211"/>
</g>
<g id="b5-3c">
<text class="g" x="1949.5" y="3979.6"><tspan x="1949.5">(二)狠抓公路沿线环境整治工作，加大城乡环</tspan><tspan x="1949.5" dy="16.7">境综合整治力度9月以来，我乡结合环境卫生</tspan><tspan x="1949.5" dy="16.7">综合整治工作，加大力度对境内公路沿线的环</tspan><tspan x="1949.5" dy="16.7">境进行整治，清理遮挡道路的果树、花椒；结</tspan><tspan x="1949.5" dy="16.7">合三微三态工作，打造公路沿线花海走廊。</tspan></text>
<path class="ul" d="M1942 4054.3H2211"/>
</g>
<g id="b5-3d">
<text class="g" x="1949.5" y="4135.6"><tspan x="1949.5">(三)狠抓村社环境卫生，改善村容、村貌今年</tspan><tspan x="1949.5" dy="16.35">以来我乡多次组织乡村干部以及村民对村内环</tspan><tspan x="1949.5" dy="16.35">境卫生进行集中整治，清理卫生死角，改善环</tspan><tspan x="1949.5" dy="16.35">境卫生，为创建"四好村"提供了坚实保障。</tspan></text>
<path class="ul" d="M1942 4193.3H2211"/>
</g>
<g id="b5-3d1">
<text class="g" x="2243.3" y="4102.3"><tspan x="2243.3">通过前期环境整治工作的开展，乡环境大整治</tspan><tspan x="2243.3" dy="16.46">工作已取得阶段性成效，下一步，我乡将继续</tspan><tspan x="2243.3" dy="16.46">按照县委、县政府的安排部署，在乡党委、政</tspan><tspan x="2243.3" dy="16.46">府的指导下，进一步加强乡域环境的管理水平</tspan><tspan x="2243.3" dy="16.46">，切实巩固环境整治的工作成果，建设更加整</tspan><tspan x="2243.3" dy="16.46">洁优美的生态环境，打造幸福美丽新。</tspan></text>
<path class="ul" d="M2236 4193.3H2503.6"/>
</g>
</g>
</svg>
